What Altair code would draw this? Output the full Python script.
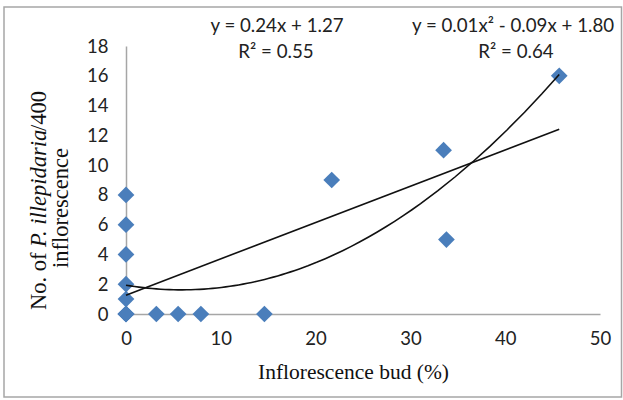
import altair as alt
import pandas as pd

# Data (three extra points overlap at (0, 0))
bud_pct = [0, 0, 0, 0, 0, 0, 0, 0, 0, 3.2, 5.5, 7.9, 14.6, 21.7, 33.5, 33.8, 45.7]
larvae = [0, 0, 0, 0, 1, 2, 4, 6, 8, 0, 0, 0, 0, 9, 11, 5, 16]

x_ticks = [0, 10, 20, 30, 40, 50]
y_ticks = [0, 2, 4, 6, 8, 10, 12, 14, 16, 18]

eq_linear = ["y = 0.24x + 1.27", "R² = 0.55"]
eq_poly = ["y = 0.01x² - 0.09x + 1.80", "R² = 0.64"]

df = pd.DataFrame({"x": bud_pct, "y": larvae})

LABEL_FONT = "Lato"
SERIF = "Liberation Serif"

x_axis = alt.Axis(
    values=x_ticks, grid=False, ticks=False, domainColor="#a6a6a6", domainWidth=1.5,
    labelFont=LABEL_FONT, labelFontSize=18.5, labelColor="#222", labelPadding=15,
    labelFlush=False, labelOverlap=False,
    title="Inflorescence bud (%)", titleFont=SERIF, titleFontSize=21.5,
    titleFontWeight="normal", titleColor="#111", titleX=227, titleY=64,
    titleAlign="center", titleBaseline="alphabetic",
)
y_axis = alt.Axis(
    values=y_ticks, grid=False, ticks=False, domainColor="#a6a6a6", domainWidth=1.5,
    labelFont=LABEL_FONT, labelFontSize=18.5, labelColor="#222", labelPadding=18,
    labelFlush=False, labelOverlap=False, title=None,
)
x_scale = alt.Scale(domain=[0, 50], nice=False, zero=True)
y_scale = alt.Scale(domain=[0, 18], nice=False)


def xe():
    return alt.X("x:Q", scale=x_scale, axis=x_axis)


def ye():
    return alt.Y("y:Q", scale=y_scale, axis=y_axis)


base = alt.Chart(df)

points = base.mark_point(shape="diamond", filled=True, size=280, color="#4A7EBB", opacity=1).encode(
    x=xe(), y=ye()
)

lin = base.transform_regression("x", "y", method="linear").mark_line(
    color="#111", strokeWidth=1.6
).encode(x=xe(), y=ye())

poly = base.transform_regression("x", "y", method="poly", order=2).mark_line(
    color="#111", strokeWidth=1.6
).encode(x=xe(), y=ye())


def txt(s, x, y, **kw):
    params = dict(font=LABEL_FONT, fontSize=18.7, color="#222", align="center", baseline="alphabetic")
    params.update(kw)
    return alt.Chart(pd.DataFrame({"t": [s]})).mark_text(**params).encode(
        text="t:N", x=alt.value(x), y=alt.value(y)
    )


eq_layers = [
    txt(eq_linear[0], 151, -14),
    txt(eq_linear[1], 150, 12),
    txt(eq_poly[0], 387, -14),
    txt(eq_poly[1], 390, 12),
]

# y-axis title (mixed italic), rotated
YT_SIZE = 22.5
ytitle_kw = dict(font=SERIF, fontSize=YT_SIZE, color="#111", angle=270, baseline="alphabetic")
y1 = 264
w_a = 2.805 * YT_SIZE
w_b = 5.33 * YT_SIZE - 4
ytitle = [
    txt("No. of ", -80, y1, align="left", **ytitle_kw),
    txt("P. illepidaria", -80, y1 - w_a, align="left", fontStyle="italic", **ytitle_kw),
    txt("/400", -80, y1 - w_a - w_b, align="left", **ytitle_kw),
    txt("inflorescence", -58, 162, align="center", **ytitle_kw),
]

frame = alt.Chart(pd.DataFrame({"a": [0]})).mark_rect(
    filled=False, stroke="#a6a6a6", strokeWidth=1.5
).encode(x=alt.value(-122), x2=alt.value(495.5), y=alt.value(-39), y2=alt.value(351))

chart = alt.layer(points, lin, poly, frame, *eq_layers, *ytitle).properties(
    width=474, height=268,
    padding={"left": 126, "top": 46, "right": 23, "bottom": 86},
    autosize=alt.AutoSizeParams(type="none"),
    background="white",
).configure_view(stroke=None)

chart.save("out.html", embed_options={"renderer": "svg", "actions": False})
